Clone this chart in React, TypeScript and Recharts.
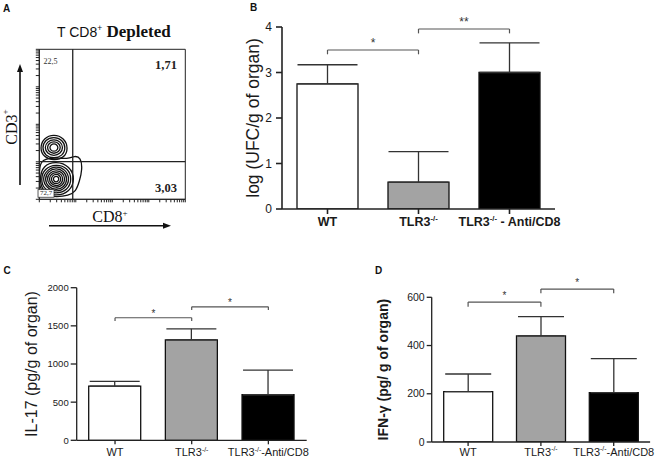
import React from 'react';
import {
  BarChart, Bar, XAxis, YAxis, ErrorBar, ReferenceLine, Cell,
  ComposedChart, Line, ReferenceArea, ReferenceDot,
} from 'recharts';

// ---------- data ----------
const categoriesB = ['WT', 'TLR3-/-', 'TLR3-/- - Anti/CD8'];
const categoriesCD = ['WT', 'TLR3-/-', 'TLR3-/--Anti/CD8'];
const barFills = ['#ffffff', '#a3a3a3', '#000000'];

const ufcMeans = [2.75, 0.59, 3.0];
const ufcErrors = [0.42, 0.67, 0.65];
const ufcTicks = [0, 1, 2, 3, 4];

const il17Means = [711, 1317, 597];
const il17Errors = [61, 144, 323];
const il17Ticks = [0, 500, 1000, 1500, 2000];

const ifnMeans = [209, 440, 205];
const ifnErrors = [73, 80, 141];
const ifnTicks = [0, 200, 400, 600];

// significance brackets
const ufcBrackets = [
  { from: 'WT', to: 'TLR3-/-', level: 3.495, end: 3.40, label: '*' },
  { from: 'TLR3-/-', to: 'TLR3-/- - Anti/CD8', level: 3.956, end: 3.86, label: '**' },
];
const il17Brackets = [
  { from: 'WT', to: 'TLR3-/-', level: 1606, end: 1563, label: '*' },
  { from: 'TLR3-/-', to: 'TLR3-/--Anti/CD8', level: 1750, end: 1707, label: '*' },
];
const ifnBrackets = [
  { from: 'WT', to: 'TLR3-/-', level: 580, end: 561, label: '*' },
  { from: 'TLR3-/-', to: 'TLR3-/--Anti/CD8', level: 634, end: 617, label: '*' },
];

// flow cytometry panel
const flowTicks = [0, 7.5, 11.9, 15.1, 17.5, 19.5, 21.1, 22.6, 23.9, 25, 32.5, 36.9, 40.1, 42.5, 44.5, 46.1, 47.6, 48.9, 50, 57.5, 61.9, 65.1, 67.5, 69.5, 71.1, 72.6, 73.9, 75, 82.5, 86.9, 90.1, 92.5, 94.5, 96.1, 97.6, 98.9, 100];
const cd8Gate = 22.9;
const cd3Gate = 25.1;
const quadrantValues = ['22,5', '1,71', '3,03', '72,7'];
const quadrantAnchors = [
  { x: 7.7, y: 92.2 },
  { x: 86.8, y: 89.5 },
  { x: 86.8, y: 7.5 },
  { x: 4.6, y: 3.9 },
];
const contours = [
  // lower population (CD3- CD8-), outer envelope with lobe
  [{ x: 0.3, y: 25 }, { x: 6, y: 27.5 }, { x: 14, y: 27.5 }, { x: 20, y: 27 }, { x: 24, y: 29 }, { x: 28.5, y: 28 }, { x: 29.5, y: 20 }, { x: 27.5, y: 12 }, { x: 25, y: 5 }, { x: 20, y: 2.5 }, { x: 12, y: 1.5 }, { x: 4, y: 2.5 }, { x: 0, y: 8 }, { x: 0, y: 16 }],
  [{ x: 24.5, y: 13.5 }, { x: 21, y: 22 }, { x: 11.5, y: 25.5 }, { x: 2.5, y: 22.5 }, { x: 0, y: 13.5 }, { x: 2.5, y: 4.5 }, { x: 11.5, y: 2 }, { x: 21, y: 5 }],
  [{ x: 22.5, y: 13.5 }, { x: 19.5, y: 21 }, { x: 11.5, y: 23.5 }, { x: 3.5, y: 20.5 }, { x: 0.8, y: 13.5 }, { x: 3.5, y: 6 }, { x: 11.5, y: 3.5 }, { x: 19.5, y: 6 }],
  [{ x: 21, y: 13.5 }, { x: 18, y: 20 }, { x: 11.5, y: 22.3 }, { x: 5, y: 19.5 }, { x: 2, y: 13.5 }, { x: 5, y: 7.5 }, { x: 11.5, y: 4.7 }, { x: 18, y: 7.2 }],
  [{ x: 19.5, y: 13.5 }, { x: 17, y: 19 }, { x: 11.5, y: 21 }, { x: 6, y: 18.8 }, { x: 3.5, y: 13.5 }, { x: 6, y: 8.2 }, { x: 11.5, y: 6 }, { x: 17, y: 8 }],
  [{ x: 18, y: 13.5 }, { x: 16, y: 18 }, { x: 11.5, y: 19.5 }, { x: 7, y: 17.8 }, { x: 5, y: 13.5 }, { x: 7, y: 9.3 }, { x: 11.5, y: 7.5 }, { x: 16, y: 9 }],
  [{ x: 16.5, y: 13.5 }, { x: 15, y: 17 }, { x: 11.5, y: 18.3 }, { x: 8, y: 16.8 }, { x: 6.5, y: 13.5 }, { x: 8, y: 10.2 }, { x: 11.5, y: 8.7 }, { x: 15, y: 10 }],
  [{ x: 15, y: 13.5 }, { x: 14, y: 16 }, { x: 11.5, y: 16.9 }, { x: 9, y: 15.8 }, { x: 8, y: 13.5 }, { x: 9, y: 11.2 }, { x: 11.5, y: 10.1 }, { x: 14, y: 11 }],
  [{ x: 13.5, y: 13.5 }, { x: 12.9, y: 15 }, { x: 11.5, y: 15.5 }, { x: 10.1, y: 14.9 }, { x: 9.5, y: 13.5 }, { x: 10.1, y: 12 }, { x: 11.5, y: 11.5 }, { x: 12.9, y: 12 }],
  // upper population (CD3+ CD8-)
  [{ x: 20, y: 34 }, { x: 17, y: 41 }, { x: 10, y: 43.5 }, { x: 3, y: 41 }, { x: 0.3, y: 34 }, { x: 3, y: 28 }, { x: 10, y: 25.8 }, { x: 17, y: 27.5 }],
  [{ x: 18.3, y: 34.3 }, { x: 15.8, y: 39.8 }, { x: 10, y: 41.8 }, { x: 4, y: 39.8 }, { x: 1.8, y: 34.3 }, { x: 4, y: 29 }, { x: 10, y: 27.2 }, { x: 15.8, y: 28.8 }],
  [{ x: 16.5, y: 34.5 }, { x: 14.6, y: 38.5 }, { x: 10, y: 40.2 }, { x: 5.4, y: 38.5 }, { x: 3.5, y: 34.5 }, { x: 5.4, y: 30.4 }, { x: 10, y: 28.8 }, { x: 14.6, y: 30.4 }],
  [{ x: 14.8, y: 34.5 }, { x: 13.4, y: 37.5 }, { x: 10, y: 38.7 }, { x: 6.6, y: 37.5 }, { x: 5.2, y: 34.5 }, { x: 6.6, y: 31.5 }, { x: 10, y: 30.3 }, { x: 13.4, y: 31.5 }],
  [{ x: 13, y: 34.5 }, { x: 12.1, y: 36.4 }, { x: 10, y: 37.2 }, { x: 7.9, y: 36.4 }, { x: 7, y: 34.5 }, { x: 7.9, y: 32.6 }, { x: 10, y: 31.8 }, { x: 12.1, y: 32.6 }],
];

// ---------- helpers ----------
const SANS = 'Liberation Sans, Arial, sans-serif';
const SERIF = 'Liberation Serif, Times New Roman, serif';

const makeRows = (cats: string[], means: number[], errs: number[]) =>
  cats.map((c, i) => ({ cat: c, mean: means[i], err: [0, errs[i]] }));

const makeTick = (fontSize: number, fontWeight: string) => (props: any) => {
  const { x, y, payload } = props;
  const s = String(payload.value);
  const idx = s.indexOf('-/-');
  const sup = fontSize * 0.42;
  const ty = y + fontSize * 0.72;
  return (
    <text x={x} y={ty} textAnchor="middle" fontSize={fontSize} fontWeight={fontWeight} fill="#1a1a1a" fontFamily={SANS}>
      {idx < 0 ? s : [
        <tspan key="a">{s.slice(0, idx)}</tspan>,
        <tspan key="b" dy={-sup} fontSize={fontSize * 0.62}>-/-</tspan>,
        <tspan key="c" dy={sup}>{s.slice(idx + 3)}</tspan>,
      ]}
    </text>
  );
};

const makeYLabel = (text: string, cx: number, fontSize: number, fontWeight: string) => (props: any) => {
  const vb = props.viewBox || {};
  const cy = (vb.y || 0) + (vb.height || 0) / 2;
  return (
    <text x={cx} y={cy} transform={`rotate(-90 ${cx} ${cy})`} textAnchor="middle" dominantBaseline="central"
      fontSize={fontSize} fontWeight={fontWeight} fill="#1a1a1a" fontFamily={SANS}>
      {text}
    </text>
  );
};

function BarPanel(p: any) {
  const rows = makeRows(p.cats, p.means, p.errs);
  return (
    <div style={{ position: 'absolute', left: p.left, top: p.top }}>
      <BarChart width={p.width} height={p.height} data={rows} margin={p.margin} barCategoryGap={0}>
        <XAxis dataKey="cat" type="category" height={p.xHeight} tickSize={p.xTickSize} tickMargin={p.xTickMargin}
          tick={makeTick(p.xFont, p.xBold ? 'bold' : 'normal')} interval={0}
          axisLine={{ stroke: '#222', strokeWidth: p.axisWidth }} tickLine={{ stroke: '#222', strokeWidth: p.axisWidth }} />
        <YAxis type="number" domain={p.domain} ticks={p.ticks} width={p.yWidth} tickSize={p.yTickSize} tickMargin={p.yTickMargin}
          interval={0} allowDataOverflow
          tick={{ fontSize: p.yFont, fill: '#1a1a1a', fontFamily: SANS }}
          axisLine={{ stroke: '#222', strokeWidth: p.axisWidth }} tickLine={{ stroke: '#222', strokeWidth: p.axisWidth }}
          label={makeYLabel(p.yLabel, p.yLabelX, p.yLabelFont, p.yLabelBold ? 'bold' : 'normal')} />
        <Bar dataKey="mean" barSize={p.barSize} stroke="#111" strokeWidth={p.barStroke} isAnimationActive={false}>
          {rows.map((r, i) => <Cell key={r.cat} fill={barFills[i]} />)}
          <ErrorBar dataKey="err" direction="y" width={p.capWidth} stroke="#333" strokeWidth={1.3} isAnimationActive={false} />
        </Bar>
        {p.brackets.map((b: any, i: number) => (
          <ReferenceLine key={'h' + i} ifOverflow="visible" stroke="#555" strokeWidth={1.2}
            segment={[{ x: b.from, y: b.level }, { x: b.to, y: b.level }]}
            label={{ value: b.label, position: 'top', offset: p.starOffset, fontSize: p.starFont, fill: '#333', fontFamily: SANS }} />
        ))}
        {p.brackets.map((b: any, i: number) => (
          <ReferenceLine key={'l' + i} ifOverflow="visible" stroke="#555" strokeWidth={1.2}
            segment={[{ x: b.from, y: b.level }, { x: b.from, y: b.end }]} />
        ))}
        {p.brackets.map((b: any, i: number) => (
          <ReferenceLine key={'r' + i} ifOverflow="visible" stroke="#555" strokeWidth={1.2}
            segment={[{ x: b.to, y: b.level }, { x: b.to, y: b.end }]} />
        ))}
      </BarChart>
    </div>
  );
}

const quadShape = (text: string, i: number) => (props: any) => {
  const { cx, cy } = props;
  if (i === 0) {
    return <text x={cx} y={cy} textAnchor="middle" dominantBaseline="central" fontSize={8} fontFamily={SERIF} fill="#333">{text}</text>;
  }
  if (i === 3) {
    return (
      <g>
        <rect x={cx - 8} y={cy - 3.8} width={16} height={7.6} fill="#fff" stroke="#333" strokeWidth={0.8} />
        <text x={cx} y={cy} textAnchor="middle" dominantBaseline="central" fontSize={7} fontFamily={SERIF} fill="#222">{text}</text>
      </g>
    );
  }
  return <text x={cx} y={cy} textAnchor="middle" dominantBaseline="central" fontSize={12.5} fontWeight="bold" fontFamily={SERIF} fill="#222">{text}</text>;
};

const noLabel = (props: any) => <text x={props.x} y={props.y} fontSize={1} fill="none"> </text>;

function FlowPanel() {
  return (
    <div style={{ position: 'absolute', left: 0, top: 0 }}>
      <ComposedChart width={200} height={215} margin={{ top: 49.3, right: 14.7, bottom: 10.7, left: 0 }}>
        <XAxis type="number" dataKey="x" domain={[0, 100]} ticks={flowTicks} interval={0} allowDataOverflow
          tick={noLabel} tickSize={3} height={5} axisLine={{ stroke: '#222' }} tickLine={{ stroke: '#222', strokeWidth: 1 }} />
        <YAxis type="number" domain={[0, 100]} ticks={flowTicks} interval={0} allowDataOverflow
          tick={noLabel} tickSize={3.5} width={39.3} axisLine={{ stroke: '#222' }} tickLine={{ stroke: '#222', strokeWidth: 1 }} />
        <ReferenceArea x1={0} x2={100} y1={0} y2={100} ifOverflow="visible" fill="none" stroke="#222" strokeWidth={1} />
        {contours.map((c, i) => (
          <Line key={i} data={c} dataKey="y" type="basisClosed" dot={false} activeDot={false}
            stroke="#111" strokeWidth={1.3} isAnimationActive={false} />
        ))}
        <ReferenceLine x={cd8Gate} stroke="#222" strokeWidth={1.3} />
        <ReferenceLine y={cd3Gate} stroke="#222" strokeWidth={1.3} />
        {quadrantValues.map((v, i) => (
          <ReferenceDot key={v} x={quadrantAnchors[i].x} y={quadrantAnchors[i].y} r={1} ifOverflow="visible"
            shape={quadShape(v, i)} />
        ))}
      </ComposedChart>
    </div>
  );
}

function Decorations() {
  return (
    <svg width={666} height={461} style={{ position: 'absolute', left: 0, top: 0, pointerEvents: 'none' }}>
      <g fontFamily={SANS} fontWeight="bold" fontSize={10} fill="#111">
        <text x={3} y={11.5}>A</text>
        <text x={250} y={11}>B</text>
        <text x={3.5} y={274}>C</text>
        <text x={375} y={274}>D</text>
      </g>
      <text x={57} y={36.5} fontFamily={SANS} fontSize={14} fill="#111">
        T CD8<tspan fontSize={8.5} dy={-6}>+</tspan>
        <tspan dy={6} fontFamily={SERIF} fontWeight="bold" fontSize={17}> Depleted</tspan>
      </text>
      {/* vertical arrow */}
      <line x1={20} y1={185} x2={20} y2={70} stroke="#111" strokeWidth={1.6} />
      <polygon points="20,64 17,72 23,72" fill="#111" />
      <text x={11} y={127} transform="rotate(-90 11 127)" textAnchor="middle" dominantBaseline="central"
        fontFamily={SERIF} fontSize={16} fill="#111">
        CD3<tspan fontSize={9} dy={-6}>+</tspan>
      </text>
      {/* horizontal arrow */}
      <line x1={49} y1={225.7} x2={165} y2={225.7} stroke="#111" strokeWidth={1.6} />
      <polygon points="171,225.7 163,222.7 163,228.7" fill="#111" />
      <text x={110} y={221.5} textAnchor="middle" fontFamily={SERIF} fontSize={16} fill="#111">
        CD8<tspan fontSize={9} dy={-6}>+</tspan>
      </text>
    </svg>
  );
}

export default function App() {
  return (
    <div style={{ position: 'absolute', left: 0, top: 0, width: 666, height: 461, background: '#fff', fontFamily: SANS, overflow: 'hidden' }}>
      <FlowPanel />
      <BarPanel
        left={200} top={0} width={380} height={240}
        margin={{ top: 27, right: 25, bottom: 9, left: 2 }}
        cats={categoriesB} means={ufcMeans} errs={ufcErrors}
        domain={[0, 4]} ticks={ufcTicks}
        yWidth={80} yTickSize={6} yTickMargin={4} yFont={12}
        xHeight={22} xTickSize={5} xTickMargin={3} xFont={12.5} xBold
        barSize={61} capWidth={30} barStroke={1.3} axisWidth={1.6}
        brackets={ufcBrackets} starFont={12} starOffset={3}
        yLabel="log (UFC/g of organ)" yLabelX={53} yLabelFont={17.5} yLabelBold={false}
      />
      <BarPanel
        left={0} top={240} width={320} height={221}
        margin={{ top: 47.7, right: 13.3, bottom: 0, left: 0 }}
        cats={categoriesCD} means={il17Means} errs={il17Errors}
        domain={[0, 2000]} ticks={il17Ticks}
        yWidth={76.7} yTickSize={6} yTickMargin={2} yFont={9.5}
        xHeight={20.7} xTickSize={4} xTickMargin={4} xFont={11} xBold={false}
        barSize={52} capWidth={25} barStroke={1.3} axisWidth={1.3}
        brackets={il17Brackets} starFont={10} starOffset={1}
        yLabel="IL-17 (pg/g of organ)" yLabelX={31.7} yLabelFont={16} yLabelBold={false}
      />
      <BarPanel
        left={330} top={240} width={336} height={221}
        margin={{ top: 57.3, right: 15.9, bottom: 0, left: 0 }}
        cats={categoriesCD} means={ifnMeans} errs={ifnErrors}
        domain={[0, 600]} ticks={ifnTicks}
        yWidth={101.7} yTickSize={5} yTickMargin={2} yFont={10.5}
        xHeight={19} xTickSize={4} xTickMargin={2} xFont={11} xBold={false}
        barSize={49} capWidth={23} barStroke={1.3} axisWidth={1.3}
        brackets={ifnBrackets} starFont={10} starOffset={3}
        yLabel="IFN-γ (pg/ g of organ)" yLabelX={53.3} yLabelFont={14} yLabelBold
      />
      <Decorations />
    </div>
  );
}
